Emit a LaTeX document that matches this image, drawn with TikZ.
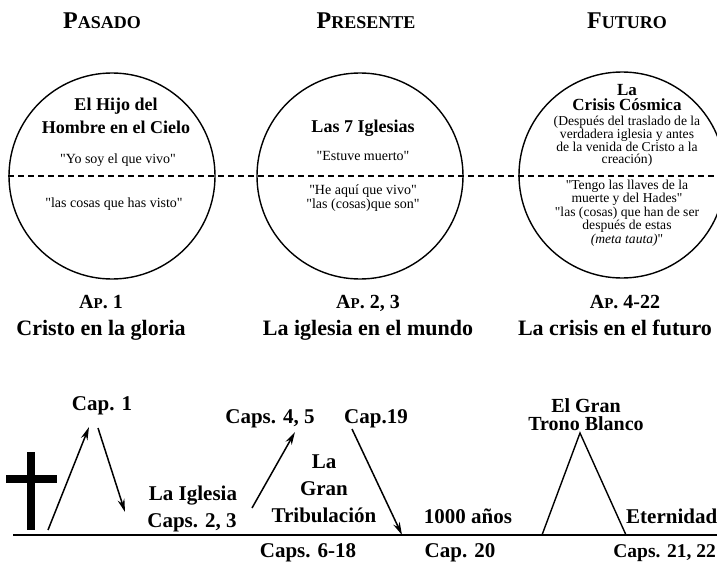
\documentclass[tikz,border=0pt]{standalone}
\usepackage{fontspec}
\setmainfont{Liberation Serif}
\usetikzlibrary{arrows.meta}
\newcommand{\lowcaps}[2]{{\fontsize{#1}{#1}\selectfont #2}}
\newcommand{\qt}{\textquotedbl}

\begin{document}
\begin{tikzpicture}[x=1pt,y=-1pt,
  head/.style={font=\bfseries\fontsize{24}{24}\selectfont, anchor=base, inner sep=0pt},
  apref/.style={font=\bfseries\fontsize{20}{20}\selectfont, anchor=base, inner sep=0pt},
  theme/.style={font=\bfseries\fontsize{22}{22}\selectfont, anchor=base, inner sep=0pt},
  era/.style={circle, draw, line width=1.4pt, minimum size=206pt, inner sep=0pt},
  ctitle/.style={font=\bfseries\fontsize{18}{23}\selectfont, align=center, anchor=base, inner sep=0pt},
  cquote/.style={font=\fontsize{14}{9}\selectfont, align=center, anchor=base, inner sep=0pt},
  cnote/.style={font=\fontsize{13.6}{11.2}\selectfont, align=center, anchor=base, inner sep=0pt},
  tlabel/.style={font=\bfseries\fontsize{21}{27}\selectfont, align=center, anchor=base, inner sep=0pt},
  jump/.style={line width=1.5pt, -{Stealth[length=13pt, width=7pt]}}]
\useasboundingbox (0,0) rectangle (717,567);
\clip (0,0) rectangle (717,567);

% headings
\node[head] (pasado) at (102,29) {P\lowcaps{18}{ASADO}};
\node[head] (presente) at (366,29) {P\lowcaps{18}{RESENTE}};
\node[head] (futuro) at (627,29) {F\lowcaps{18}{UTURO}};

% the three circles
\node[era] (past) at (112,176) {};
\node[era] (now) at (360,176) {};
\node[era] (next) at (622,175) {};
\coordinate (dashend) at (717,176);
\draw[line width=2pt, dash pattern=on 6pt off 4pt] (past.west) -- (dashend);

% base of a node with several lines = last line
\node[ctitle] (hijo) at (116,133) {El Hijo del\\Hombre en el Cielo};
\node[cquote] (vivo) at (118,163) {\qt Yo soy el que vivo\qt};
\node[cquote] (visto) at (114,207) {\qt las cosas que has visto\qt};

\node[ctitle] (iglesias) at (363,132) {Las 7 Iglesias};
\node[cquote] (muerto) at (363,160) {\qt Estuve muerto\qt};
\node[cquote] (son) at (363,208) {\qt He aquí que vivo\qt\\\qt las (cosas)que son\qt};

\node[ctitle, font=\bfseries\fontsize{17}{16}\selectfont] (cosmica) at (627,111) {La\\Crisis Cósmica};
\node[cnote] (traslado) at (627,163) {(Después del traslado de la\\verdadera iglesia y antes\\de la venida de Cristo a la\\creación)};
\node[cnote, font=\fontsize{13.6}{12.3}\selectfont] (llaves) at (627,243) {\qt Tengo las llaves de la\\muerte y del Hades\qt\\\qt las (cosas) que han de ser\\después de estas\\\textit{(meta tauta)}\qt};

% references
\node[apref] (ap1) at (101,308) {A\lowcaps{15}{P}. 1};
\node[apref] (ap23) at (368,308) {A\lowcaps{15}{P}. 2, 3};
\node[apref] (ap422) at (625,308) {A\lowcaps{15}{P}. 4-22};
\node[theme] (gloria) at (101,335) {Cristo en la gloria};
\node[theme] (mundo) at (368,335) {La iglesia en el mundo};
\node[theme] (crisis) at (615,335) {La crisis en el futuro};

% time line
\coordinate (tstart) at (13,535);
\coordinate (tend) at (717,535);
\draw[line width=1.5pt] (tstart) -- (tend);
\fill (27,452) rectangle (35,530);
\fill (6,475) rectangle (57,483);

\coordinate (a1s) at (48,530);
\coordinate (a1e) at (89,427);
\coordinate (a2s) at (98,428);
\coordinate (a2e) at (125,512);
\coordinate (a3s) at (252,508);
\coordinate (a3e) at (295,432);
\coordinate (a4s) at (352,429);
\coordinate (a4e) at (402,535);
\draw[jump] (a1s) -- (a1e);
\draw[jump] (a2s) -- (a2e);
\draw[jump] (a3s) -- (a3e);
\draw[jump] (a4s) -- (a4e);

\coordinate (trl) at (542,535);
\coordinate (trt) at (580,433);
\coordinate (trr) at (626,535);
\draw[line width=1.4pt] (trl) -- (trt) -- (trr);

\node[tlabel] (cap1) at (102,410) {Cap. 1};
\node[tlabel] (caps45) at (270,423) {Caps. 4, 5};
\node[tlabel] (cap19) at (376,423) {Cap.19};
\node[tlabel] (iglesia) at (193,500) {La Iglesia};
\node[tlabel] (caps23) at (192,527) {Caps. 2, 3};
\node[tlabel] (tribulacion) at (324,522) {La\\Gran\\Tribulación};
\node[tlabel] (anos) at (468,523) {1000 años};
\node[tlabel, anchor=base west] (eternidad) at (626,523) {Eternidad};
\node[tlabel, font=\bfseries\fontsize{20}{18}\selectfont] (trono) at (586,430) {El Gran\\Trono Blanco};
\node[tlabel] (caps618) at (308,557) {Caps. 6-18};
\node[tlabel] (cap20) at (460,557) {Cap. 20};
\node[tlabel, anchor=base east, font=\bfseries\fontsize{19.5}{19.5}\selectfont] (caps2122) at (716,557) {Caps. 21, 22};
\end{tikzpicture}
\end{document}
